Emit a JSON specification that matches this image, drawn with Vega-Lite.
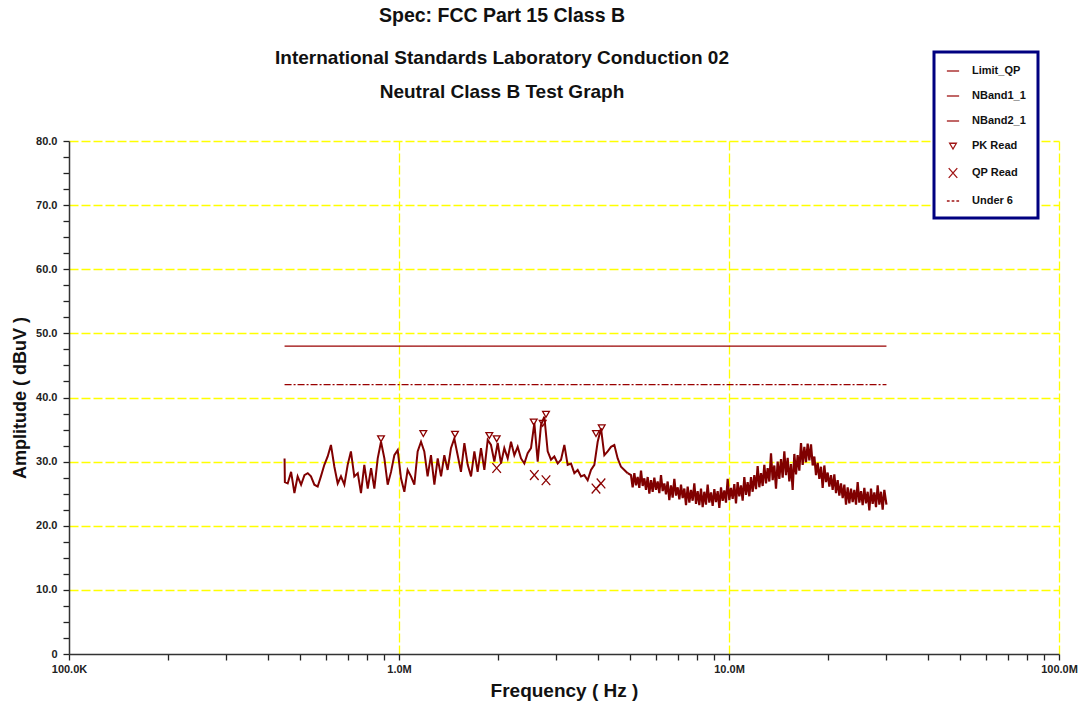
{
  "$schema": "https://vega.github.io/schema/vega-lite/v6.json",
  "width": 990,
  "height": 513,
  "autosize": "none",
  "padding": {"left": 69, "top": 141, "right": 23, "bottom": 54},
  "background": "white",
  "config": {"view": {"stroke": null}, "font": "Liberation Sans", "legend": {"strokeWidth": 3}},
  "title": {
    "text": "Spec: FCC Part 15 Class B",
    "subtitle": ["International Standards Laboratory Conduction 02", "Neutral Class B Test Graph"],
    "anchor": "middle",
    "dx": -62,
    "offset": -52.5,
    "font": "Liberation Sans",
    "fontSize": 19.5,
    "fontWeight": "bold",
    "color": "#111111",
    "subtitleFont": "Liberation Sans",
    "subtitleFontSize": 19,
    "subtitleFontWeight": "bold",
    "subtitleColor": "#111111",
    "subtitlePadding": 23,
    "subtitleLineHeight": 34
  },
  "datasets": {
    "limits": [
      {"f": 0.45, "a": 48, "s": "Limit_QP"},
      {"f": 30, "a": 48, "s": "Limit_QP"},
      {"f": 0.45, "a": 42, "s": "Under 6"},
      {"f": 30, "a": 42, "s": "Under 6"}
    ],
    "trace": [
      {"f":0.450,"a":30.5,"s":"NBand1_1"},{"f":0.451,"a":26.8,"s":"NBand1_1"},{"f":0.460,"a":26.6,"s":"NBand1_1"},{"f":0.471,"a":28.4,"s":"NBand1_1"},{"f":0.482,"a":25.1,"s":"NBand1_1"},
      {"f":0.493,"a":27.7,"s":"NBand1_1"},{"f":0.505,"a":26.4,"s":"NBand1_1"},{"f":0.517,"a":27.9,"s":"NBand1_1"},{"f":0.529,"a":28.2,"s":"NBand1_1"},{"f":0.541,"a":27.7,"s":"NBand1_1"},
      {"f":0.554,"a":26.4,"s":"NBand1_1"},{"f":0.567,"a":26.1,"s":"NBand1_1"},{"f":0.580,"a":27.7,"s":"NBand1_1"},{"f":0.594,"a":29.5,"s":"NBand1_1"},{"f":0.608,"a":30.8,"s":"NBand1_1"},
      {"f":0.622,"a":32.6,"s":"NBand1_1"},{"f":0.637,"a":29.2,"s":"NBand1_1"},{"f":0.652,"a":26.6,"s":"NBand1_1"},{"f":0.667,"a":27.7,"s":"NBand1_1"},{"f":0.683,"a":26.4,"s":"NBand1_1"},
      {"f":0.699,"a":29.5,"s":"NBand1_1"},{"f":0.715,"a":31.6,"s":"NBand1_1"},{"f":0.732,"a":27.7,"s":"NBand1_1"},{"f":0.750,"a":28.2,"s":"NBand1_1"},{"f":0.767,"a":25.1,"s":"NBand1_1"},
      {"f":0.785,"a":29.5,"s":"NBand1_1"},{"f":0.804,"a":25.8,"s":"NBand1_1"},{"f":0.823,"a":29.0,"s":"NBand1_1"},{"f":0.842,"a":25.8,"s":"NBand1_1"},{"f":0.862,"a":30.5,"s":"NBand1_1"},
      {"f":0.882,"a":33.1,"s":"NBand1_1"},{"f":0.903,"a":30.5,"s":"NBand1_1"},{"f":0.924,"a":26.4,"s":"NBand1_1"},{"f":0.946,"a":28.4,"s":"NBand1_1"},{"f":0.968,"a":31.0,"s":"NBand1_1"},
      {"f":0.991,"a":31.8,"s":"NBand1_1"},{"f":1.014,"a":27.4,"s":"NBand1_1"},{"f":1.038,"a":25.3,"s":"NBand1_1"},{"f":1.062,"a":28.7,"s":"NBand1_1"},{"f":1.087,"a":27.7,"s":"NBand1_1"},
      {"f":1.113,"a":26.4,"s":"NBand1_1"},{"f":1.139,"a":31.6,"s":"NBand1_1"},{"f":1.166,"a":33.1,"s":"NBand1_1"},{"f":1.193,"a":31.6,"s":"NBand1_1"},{"f":1.221,"a":27.7,"s":"NBand1_1"},
      {"f":1.250,"a":31.0,"s":"NBand1_1"},{"f":1.280,"a":26.4,"s":"NBand1_1"},{"f":1.310,"a":30.5,"s":"NBand1_1"},{"f":1.341,"a":27.7,"s":"NBand1_1"},{"f":1.372,"a":31.0,"s":"NBand1_1"},
      {"f":1.404,"a":28.7,"s":"NBand1_1"},{"f":1.437,"a":32.1,"s":"NBand1_1"},{"f":1.471,"a":33.6,"s":"NBand1_1"},{"f":1.506,"a":31.0,"s":"NBand1_1"},{"f":1.541,"a":28.4,"s":"NBand1_1"},
      {"f":1.578,"a":32.9,"s":"NBand1_1"},{"f":1.615,"a":29.5,"s":"NBand1_1"},{"f":1.653,"a":27.7,"s":"NBand1_1"},{"f":1.692,"a":31.6,"s":"NBand1_1"},{"f":1.731,"a":28.4,"s":"NBand1_1"},
      {"f":1.772,"a":32.1,"s":"NBand1_1"},{"f":1.814,"a":28.7,"s":"NBand1_1"},{"f":1.857,"a":33.4,"s":"NBand1_1"},{"f":1.900,"a":32.6,"s":"NBand1_1"},{"f":1.945,"a":30.0,"s":"NBand1_1"},
      {"f":1.991,"a":32.9,"s":"NBand1_1"},{"f":2.038,"a":29.7,"s":"NBand1_1"},{"f":2.085,"a":32.1,"s":"NBand1_1"},{"f":2.135,"a":30.5,"s":"NBand1_1"},{"f":2.185,"a":33.1,"s":"NBand1_1"},
      {"f":2.236,"a":31.0,"s":"NBand1_1"},{"f":2.289,"a":32.3,"s":"NBand1_1"},{"f":2.343,"a":30.5,"s":"NBand1_1"},{"f":2.398,"a":29.7,"s":"NBand1_1"},{"f":2.454,"a":31.3,"s":"NBand1_1"},
      {"f":2.512,"a":32.1,"s":"NBand1_1"},{"f":2.571,"a":36.0,"s":"NBand1_1"},{"f":2.632,"a":30.0,"s":"NBand1_1"},{"f":2.693,"a":35.7,"s":"NBand1_1"},{"f":2.757,"a":37.0,"s":"NBand1_1"},
      {"f":2.822,"a":31.6,"s":"NBand1_1"},{"f":2.888,"a":30.3,"s":"NBand1_1"},{"f":2.956,"a":30.8,"s":"NBand1_1"},{"f":3.026,"a":29.7,"s":"NBand1_1"},{"f":3.097,"a":30.3,"s":"NBand1_1"},
      {"f":3.170,"a":32.6,"s":"NBand1_1"},{"f":3.244,"a":29.5,"s":"NBand1_1"},{"f":3.321,"a":29.7,"s":"NBand1_1"},{"f":3.399,"a":28.2,"s":"NBand1_1"},{"f":3.479,"a":28.7,"s":"NBand1_1"},
      {"f":3.561,"a":27.7,"s":"NBand1_1"},{"f":3.644,"a":27.9,"s":"NBand1_1"},{"f":3.730,"a":27.1,"s":"NBand1_1"},{"f":3.818,"a":28.7,"s":"NBand1_1"},{"f":3.908,"a":29.5,"s":"NBand1_1"},
      {"f":4.000,"a":33.1,"s":"NBand1_1"},{"f":4.094,"a":35.2,"s":"NBand1_1"},{"f":4.190,"a":31.0,"s":"NBand1_1"},{"f":4.289,"a":31.6,"s":"NBand1_1"},{"f":4.390,"a":32.3,"s":"NBand1_1"},
      {"f":4.493,"a":32.6,"s":"NBand1_1"},{"f":4.599,"a":30.5,"s":"NBand1_1"},{"f":4.707,"a":29.2,"s":"NBand1_1"},{"f":4.818,"a":28.7,"s":"NBand1_1"},{"f":4.931,"a":28.2,"s":"NBand1_1"},
      {"f":4.931,"a":28.2,"s":"NBand2_1"},
      {"f":5.047,"a":27.9,"s":"NBand2_1"},{"f":5.106,"a":26.0,"s":"NBand2_1"},{"f":5.166,"a":28.2,"s":"NBand2_1"},{"f":5.226,"a":26.3,"s":"NBand2_1"},
      {"f":5.287,"a":27.6,"s":"NBand2_1"},{"f":5.349,"a":25.9,"s":"NBand2_1"},{"f":5.412,"a":28.6,"s":"NBand2_1"},{"f":5.475,"a":26.2,"s":"NBand2_1"},
      {"f":5.539,"a":27.4,"s":"NBand2_1"},{"f":5.604,"a":25.6,"s":"NBand2_1"},{"f":5.670,"a":27.6,"s":"NBand2_1"},{"f":5.736,"a":25.0,"s":"NBand2_1"},
      {"f":5.803,"a":27.1,"s":"NBand2_1"},{"f":5.871,"a":25.3,"s":"NBand2_1"},{"f":5.939,"a":27.5,"s":"NBand2_1"},{"f":6.008,"a":25.6,"s":"NBand2_1"},
      {"f":6.079,"a":26.9,"s":"NBand2_1"},{"f":6.150,"a":25.1,"s":"NBand2_1"},{"f":6.222,"a":27.9,"s":"NBand2_1"},{"f":6.295,"a":25.4,"s":"NBand2_1"},
      {"f":6.368,"a":26.6,"s":"NBand2_1"},{"f":6.443,"a":24.9,"s":"NBand2_1"},{"f":6.518,"a":26.9,"s":"NBand2_1"},{"f":6.594,"a":24.0,"s":"NBand2_1"},
      {"f":6.672,"a":26.3,"s":"NBand2_1"},{"f":6.750,"a":24.4,"s":"NBand2_1"},{"f":6.829,"a":27.3,"s":"NBand2_1"},{"f":6.909,"a":24.7,"s":"NBand2_1"},
      {"f":6.990,"a":26.0,"s":"NBand2_1"},{"f":7.072,"a":24.1,"s":"NBand2_1"},{"f":7.154,"a":26.4,"s":"NBand2_1"},{"f":7.238,"a":24.3,"s":"NBand2_1"},
      {"f":7.322,"a":25.8,"s":"NBand2_1"},{"f":7.408,"a":23.2,"s":"NBand2_1"},{"f":7.495,"a":26.1,"s":"NBand2_1"},{"f":7.583,"a":23.6,"s":"NBand2_1"},
      {"f":7.671,"a":25.6,"s":"NBand2_1"},{"f":7.761,"a":23.9,"s":"NBand2_1"},{"f":7.851,"a":26.6,"s":"NBand2_1"},{"f":7.943,"a":23.4,"s":"NBand2_1"},
      {"f":8.036,"a":25.4,"s":"NBand2_1"},{"f":8.130,"a":23.2,"s":"NBand2_1"},{"f":8.225,"a":25.8,"s":"NBand2_1"},{"f":8.321,"a":22.9,"s":"NBand2_1"},
      {"f":8.418,"a":25.3,"s":"NBand2_1"},{"f":8.516,"a":23.3,"s":"NBand2_1"},{"f":8.616,"a":26.4,"s":"NBand2_1"},{"f":8.717,"a":23.6,"s":"NBand2_1"},
      {"f":8.820,"a":25.2,"s":"NBand2_1"},{"f":8.923,"a":23.1,"s":"NBand2_1"},{"f":9.027,"a":25.7,"s":"NBand2_1"},{"f":9.133,"a":23.7,"s":"NBand2_1"},
      {"f":9.240,"a":25.4,"s":"NBand2_1"},{"f":9.348,"a":22.8,"s":"NBand2_1"},{"f":9.457,"a":26.0,"s":"NBand2_1"},{"f":9.568,"a":23.9,"s":"NBand2_1"},
      {"f":9.679,"a":25.5,"s":"NBand2_1"},{"f":9.792,"a":23.6,"s":"NBand2_1"},{"f":9.907,"a":27.3,"s":"NBand2_1"},{"f":10.023,"a":24.0,"s":"NBand2_1"},
      {"f":10.140,"a":25.9,"s":"NBand2_1"},{"f":10.259,"a":24.2,"s":"NBand2_1"},{"f":10.378,"a":26.5,"s":"NBand2_1"},{"f":10.499,"a":23.5,"s":"NBand2_1"},
      {"f":10.622,"a":26.8,"s":"NBand2_1"},{"f":10.746,"a":24.6,"s":"NBand2_1"},{"f":10.873,"a":26.3,"s":"NBand2_1"},{"f":11.000,"a":23.9,"s":"NBand2_1"},
      {"f":11.128,"a":27.6,"s":"NBand2_1"},{"f":11.258,"a":24.8,"s":"NBand2_1"},{"f":11.390,"a":26.8,"s":"NBand2_1"},{"f":11.523,"a":24.6,"s":"NBand2_1"},
      {"f":11.659,"a":27.6,"s":"NBand2_1"},{"f":11.795,"a":25.3,"s":"NBand2_1"},{"f":11.933,"a":27.9,"s":"NBand2_1"},{"f":12.073,"a":25.7,"s":"NBand2_1"},
      {"f":12.213,"a":29.3,"s":"NBand2_1"},{"f":12.356,"a":26.0,"s":"NBand2_1"},{"f":12.502,"a":28.2,"s":"NBand2_1"},{"f":12.648,"a":26.2,"s":"NBand2_1"},
      {"f":12.796,"a":29.5,"s":"NBand2_1"},{"f":12.946,"a":26.6,"s":"NBand2_1"},{"f":13.097,"a":29.0,"s":"NBand2_1"},{"f":13.250,"a":26.9,"s":"NBand2_1"},
      {"f":13.405,"a":31.3,"s":"NBand2_1"},{"f":13.562,"a":27.1,"s":"NBand2_1"},{"f":13.720,"a":29.4,"s":"NBand2_1"},{"f":13.881,"a":25.8,"s":"NBand2_1"},
      {"f":14.043,"a":30.0,"s":"NBand2_1"},{"f":14.207,"a":27.3,"s":"NBand2_1"},{"f":14.374,"a":30.4,"s":"NBand2_1"},{"f":14.542,"a":27.5,"s":"NBand2_1"},
      {"f":14.712,"a":31.6,"s":"NBand2_1"},{"f":14.884,"a":27.9,"s":"NBand2_1"},{"f":15.058,"a":30.6,"s":"NBand2_1"},{"f":15.234,"a":26.9,"s":"NBand2_1"},
      {"f":15.413,"a":29.6,"s":"NBand2_1"},{"f":15.593,"a":25.6,"s":"NBand2_1"},{"f":15.775,"a":31.2,"s":"NBand2_1"},{"f":15.960,"a":28.0,"s":"NBand2_1"},
      {"f":16.146,"a":31.0,"s":"NBand2_1"},{"f":16.335,"a":28.6,"s":"NBand2_1"},{"f":16.527,"a":32.9,"s":"NBand2_1"},{"f":16.720,"a":29.5,"s":"NBand2_1"},
      {"f":16.916,"a":32.3,"s":"NBand2_1"},{"f":17.114,"a":29.9,"s":"NBand2_1"},{"f":17.314,"a":32.8,"s":"NBand2_1"},{"f":17.517,"a":30.2,"s":"NBand2_1"},
      {"f":17.722,"a":32.7,"s":"NBand2_1"},{"f":17.929,"a":29.4,"s":"NBand2_1"},{"f":18.139,"a":30.8,"s":"NBand2_1"},{"f":18.351,"a":27.9,"s":"NBand2_1"},
      {"f":18.566,"a":29.8,"s":"NBand2_1"},{"f":18.783,"a":27.3,"s":"NBand2_1"},{"f":19.002,"a":29.2,"s":"NBand2_1"},{"f":19.224,"a":25.9,"s":"NBand2_1"},
      {"f":19.449,"a":29.4,"s":"NBand2_1"},{"f":19.677,"a":26.8,"s":"NBand2_1"},{"f":19.907,"a":28.3,"s":"NBand2_1"},{"f":20.140,"a":26.1,"s":"NBand2_1"},
      {"f":20.375,"a":27.9,"s":"NBand2_1"},{"f":20.613,"a":25.6,"s":"NBand2_1"},{"f":20.854,"a":28.0,"s":"NBand2_1"},{"f":21.098,"a":25.1,"s":"NBand2_1"},
      {"f":21.345,"a":27.1,"s":"NBand2_1"},{"f":21.595,"a":24.7,"s":"NBand2_1"},{"f":21.848,"a":26.6,"s":"NBand2_1"},{"f":22.104,"a":24.3,"s":"NBand2_1"},
      {"f":22.362,"a":26.4,"s":"NBand2_1"},{"f":22.624,"a":23.3,"s":"NBand2_1"},{"f":22.888,"a":26.0,"s":"NBand2_1"},{"f":23.156,"a":23.5,"s":"NBand2_1"},
      {"f":23.427,"a":25.8,"s":"NBand2_1"},{"f":23.701,"a":23.7,"s":"NBand2_1"},{"f":23.978,"a":25.6,"s":"NBand2_1"},{"f":24.259,"a":23.3,"s":"NBand2_1"},
      {"f":24.542,"a":26.8,"s":"NBand2_1"},{"f":24.829,"a":23.6,"s":"NBand2_1"},{"f":25.119,"a":25.4,"s":"NBand2_1"},{"f":25.413,"a":23.2,"s":"NBand2_1"},
      {"f":25.710,"a":25.9,"s":"NBand2_1"},{"f":26.011,"a":23.5,"s":"NBand2_1"},{"f":26.315,"a":25.3,"s":"NBand2_1"},{"f":26.623,"a":22.4,"s":"NBand2_1"},
      {"f":26.934,"a":25.8,"s":"NBand2_1"},{"f":27.249,"a":23.4,"s":"NBand2_1"},{"f":27.568,"a":25.2,"s":"NBand2_1"},{"f":27.891,"a":22.9,"s":"NBand2_1"},
      {"f":28.217,"a":26.3,"s":"NBand2_1"},{"f":28.547,"a":23.3,"s":"NBand2_1"},{"f":28.880,"a":25.3,"s":"NBand2_1"},{"f":29.218,"a":22.5,"s":"NBand2_1"},
      {"f":29.560,"a":25.6,"s":"NBand2_1"},{"f":30.000,"a":23.3,"s":"NBand2_1"}
    ],
    "reads": [
      {"f": 0.882, "a": 33.6, "s": "PK Read"},
      {"f": 1.185, "a": 34.4, "s": "PK Read"},
      {"f": 1.478, "a": 34.3, "s": "PK Read"},
      {"f": 1.878, "a": 34.1, "s": "PK Read"},
      {"f": 1.977, "a": 33.6, "s": "PK Read"},
      {"f": 2.560, "a": 36.2, "s": "PK Read"},
      {"f": 2.725, "a": 36.0, "s": "PK Read"},
      {"f": 2.789, "a": 37.4, "s": "PK Read"},
      {"f": 3.953, "a": 34.4, "s": "PK Read"},
      {"f": 4.114, "a": 35.3, "s": "PK Read"},
      {"f": 1.977, "a": 29.0, "s": "QP Read"},
      {"f": 2.571, "a": 27.9, "s": "QP Read"},
      {"f": 2.789, "a": 27.1, "s": "QP Read"},
      {"f": 3.953, "a": 25.8, "s": "QP Read"},
      {"f": 4.094, "a": 26.6, "s": "QP Read"}
    ]
  },
  "encoding": {
    "x": {
      "field": "f",
      "type": "quantitative",
      "scale": {"type": "log", "domain": [0.1, 100]},
      "axis": {
        "title": "Frequency ( Hz )",
        "values": [0.1,0.2,0.3,0.4,0.5,0.6,0.7,0.8,0.9,1,2,3,4,5,6,7,8,9,10,20,30,40,50,60,70,80,90,100],
        "labelExpr": "datum.value == 0.1 ? '100.0K' : datum.value == 1 ? '1.0M' : datum.value == 10 ? '10.0M' : datum.value == 100 ? '100.0M' : ''",
        "labelOverlap": false,
        "labelFlush": false,
        "labelBound": false,
        "labelFont": "Liberation Sans",
        "labelFontSize": 11,
        "labelFontWeight": "bold",
        "labelColor": "#222222",
        "labelPadding": 3,
        "grid": true,
        "gridColor": "#FFFF00",
        "gridDash": [9, 3],
        "gridWidth": 1.3,
        "gridOpacity": {"condition": {"test": "datum.value == 1 || datum.value == 10 || datum.value == 100", "value": 1}, "value": 0},
        "domainColor": "#333333",
        "domainWidth": 1.5,
        "tickColor": "#222222",
        "tickSize": 6,
        "tickWidth": 1.3,
        "titleFont": "Liberation Sans",
        "titleFontSize": 19,
        "titleFontWeight": "bold",
        "titleColor": "#111111",
        "titlePadding": 7
      }
    },
    "y": {
      "field": "a",
      "type": "quantitative",
      "scale": {"domain": [0, 80]},
      "axis": {
        "title": "Amplitude ( dBuV )",
        "values": [0,2.5,5,7.5,10,12.5,15,17.5,20,22.5,25,27.5,30,32.5,35,37.5,40,42.5,45,47.5,50,52.5,55,57.5,60,62.5,65,67.5,70,72.5,75,77.5,80],
        "labelExpr": "datum.value % 10 === 0 ? (datum.value === 0 ? '0' : format(datum.value, '.1f')) : ''",
        "labelOverlap": false,
        "labelFlush": false,
        "labelBound": false,
        "labelFont": "Liberation Sans",
        "labelFontSize": 11,
        "labelFontWeight": "bold",
        "labelColor": "#222222",
        "labelPadding": 6,
        "grid": true,
        "gridColor": "#FFFF00",
        "gridDash": [9, 3],
        "gridWidth": 1.3,
        "gridOpacity": {"condition": {"test": "datum.value % 10 === 0 && datum.value > 0", "value": 1}, "value": 0},
        "domainColor": "#333333",
        "domainWidth": 1.5,
        "tickColor": "#222222",
        "tickSize": 6,
        "tickWidth": 1.3,
        "titleFont": "Liberation Sans",
        "titleFontSize": 18,
        "titleFontWeight": "bold",
        "titleColor": "#111111",
        "titlePadding": 6
      }
    }
  },
  "layer": [
    {
      "data": {"name": "limits"},
      "mark": {"type": "line", "color": "#990000", "strokeWidth": 1.3},
      "encoding": {
        "detail": {"field": "s", "type": "nominal"},
        "strokeDash": {
          "field": "s",
          "type": "nominal",
          "scale": {"domain": ["Limit_QP", "Under 6"], "range": [[1, 0], [7, 2, 2, 2]]},
          "legend": null
        }
      }
    },
    {
      "data": {"name": "trace"},
      "mark": {"type": "line", "color": "#800000"},
      "encoding": {
        "detail": {"field": "s", "type": "nominal"},
        "strokeWidth": {
          "field": "s",
          "type": "ordinal",
          "scale": {"domain": ["NBand1_1", "NBand2_1"], "range": [2, 2.2]},
          "legend": null
        }
      }
    },
    {
      "data": {"name": "reads"},
      "mark": {"type": "point", "filled": false, "stroke": "#8B0000", "strokeWidth": 1.3, "size": 150, "opacity": 1},
      "encoding": {
        "shape": {
          "field": "s",
          "type": "nominal",
          "scale": {
            "domain": ["Limit_QP", "NBand1_1", "NBand2_1", "PK Read", "QP Read", "Under 6"],
            "range": [
              "M-1,0H1",
              "M-1,0H1",
              "M-1,0H1",
              "M-0.55,-0.45L0.55,-0.45L0,0.5Z",
              "M-0.7,-0.8L0.7,0.8M-0.7,0.8L0.7,-0.8",
              "M-1,0H-0.55M-0.22,0H0.22M0.55,0H1"
            ]
          },
          "legend": {
            "orient": "none",
            "legendX": 865,
            "legendY": -89,
            "title": null,
            "padding": 12,
            "rowPadding": 13,
            "symbolSize": 150,
            "symbolStrokeColor": "#A01515",
            "symbolFillColor": "transparent",
            "symbolStrokeWidth": 1.3,
            "labelFont": "Liberation Sans",
            "labelFontSize": 11,
            "labelFontWeight": "bold",
            "labelColor": "#111111",
            "labelOffset": 12,
            "labelLimit": 60,
            "strokeColor": "#000080",
            "fillColor": "white"
          }
        }
      }
    }
  ]
}
